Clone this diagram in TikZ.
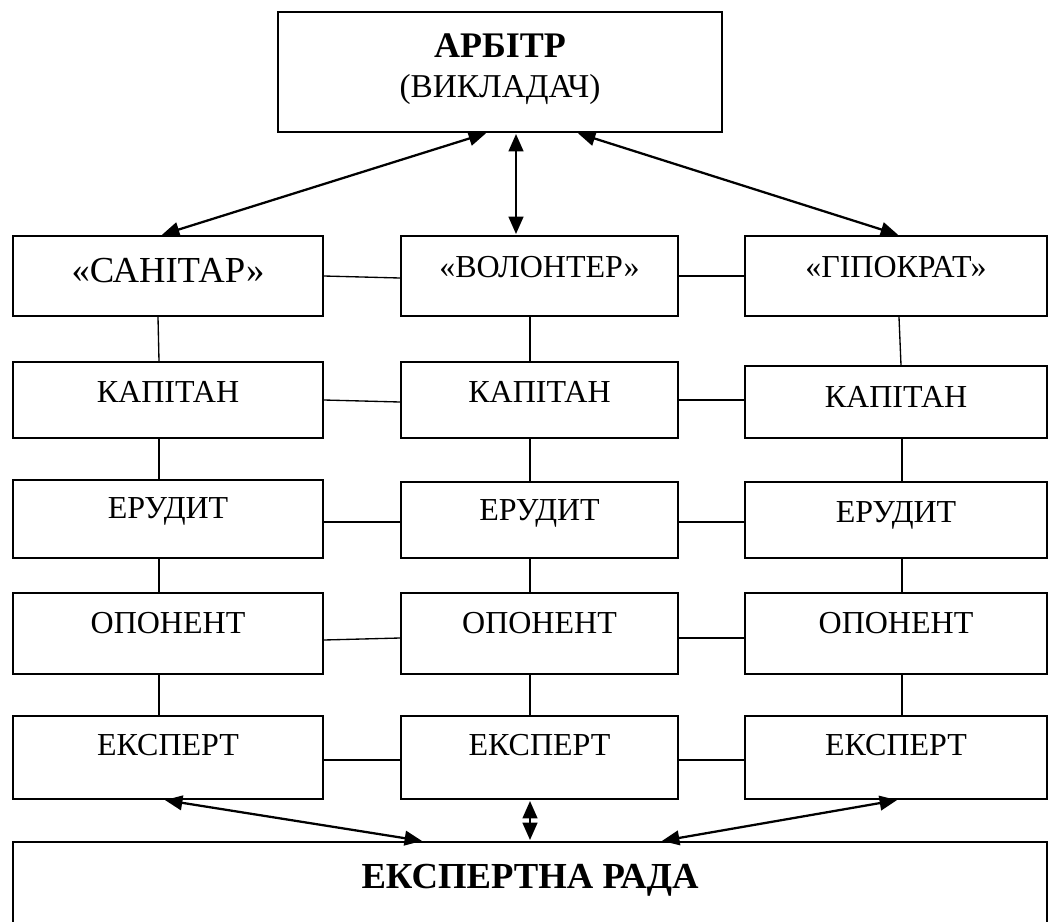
\documentclass[tikz,border=0pt]{standalone}
\usepackage{fontspec}
\setmainfont{Liberation Serif}
\usetikzlibrary{calc,arrows.meta}
\begin{document}
\begin{tikzpicture}[x=0.75pt,y=-0.75pt,
  bx/.style args={#1/#2/#3}{draw, line width=1.4pt, inner xsep=0pt, inner ysep=0pt,
    minimum width=#1, text height=#2, text depth=#3,
    font=\fontsize{24}{28}\selectfont},
  link/.style={line width=1pt},
  arr/.style={line width=1.7pt, {Triangle[length=13pt,width=11pt]}-{Triangle[length=13pt,width=11pt]}, shorten <=0.8pt, shorten >=0.8pt}
]
\useasboundingbox (0,0) rectangle (1051,922);
\clip (0,0) rectangle (1051,922);

% top box
\node[bx=333pt/33.75pt/56.25pt, font=\fontsize{27}{32}\selectfont\bfseries] (arb) at (500,72) {АРБІТР};
\node[anchor=base, inner sep=0pt, font=\fontsize{25}{28}\selectfont] (arbsub) at (500,97) {(ВИКЛАДАЧ)};

% row 1
\node[bx=232.5pt/34.5pt/25.5pt, font=\fontsize{27.5}{32}\selectfont] (s1) at (168,276) {«САНІТАР»};
\node[bx=207.75pt/30.75pt/29.25pt] (v1) at (539.5,276) {«ВОЛОНТЕР»};
\node[bx=226.5pt/30.75pt/29.25pt] (g1) at (896,276) {«ГІПОКРАТ»};

% row 2
\node[bx=232.5pt/30pt/27pt] (s2) at (168,400) {КАПІТАН};
\node[bx=207.75pt/30pt/27pt] (v2) at (539.5,400) {КАПІТАН};
\node[bx=226.5pt/30.75pt/23.25pt] (g2) at (896,402) {КАПІТАН};

% row 3
\node[bx=232.5pt/28.5pt/30pt] (s3) at (168,519) {ЕРУДИТ};
\node[bx=207.75pt/28.5pt/28.5pt] (v3) at (539.5,520) {ЕРУДИТ};
\node[bx=226.5pt/30pt/27pt] (g3) at (896,520) {ЕРУДИТ};

% row 4
\node[bx=232.5pt/30pt/30.75pt] (s4) at (168,633.5) {ОПОНЕНТ};
\node[bx=207.75pt/30pt/30.75pt] (v4) at (539.5,633.5) {ОПОНЕНТ};
\node[bx=226.5pt/30pt/30.75pt] (g4) at (896,633.5) {ОПОНЕНТ};

% row 5
\node[bx=232.5pt/29.25pt/33pt] (s5) at (168,757.5) {ЕКСПЕРТ};
\node[bx=207.75pt/29.25pt/33pt] (v5) at (539.5,757.5) {ЕКСПЕРТ};
\node[bx=226.5pt/29.25pt/33pt] (g5) at (896,757.5) {ЕКСПЕРТ};

% bottom box
\node[bx=775.5pt/34.5pt/55.5pt, font=\fontsize{27.5}{32}\selectfont\bfseries] (rada) at (530,902) {ЕКСПЕРТНА РАДА};

% arrows from arbiter
\draw[arr] ($(arb.south)+(-13,0)$) -- ($(s1.north)+(-7,0)$);
\draw[arr] ($(arb.south)+(16,0)$) -- ($(v1.north)+(-23.5,0)$);
\draw[arr] ($(arb.south)+(77,0)$) -- ($(g1.north)+(3,0)$);

% arrows to expert council
\draw[arr] ($(s5.south)+(-4,0)$) -- ($(rada.north)+(-107,0)$);
\draw[arr] ($(v5.south)+(-9.5,0)$) -- ($(rada.north)+(0,0)$);
\draw[arr] ($(g5.south)+(2,0)$) -- ($(rada.north)+(131,0)$);

% vertical links
\draw[link] ($(s1.south)+(-10,0)$) -- ($(s2.north)+(-9,0)$);
\draw[link] ($(s2.south)+(-9,0)$) -- ($(s3.north)+(-9,0)$);
\draw[link] ($(s3.south)+(-9,0)$) -- ($(s4.north)+(-9,0)$);
\draw[link] ($(s4.south)+(-9,0)$) -- ($(s5.north)+(-9,0)$);

\draw[link] ($(v1.south)+(-9.5,0)$) -- ($(v2.north)+(-9.5,0)$);
\draw[link] ($(v2.south)+(-9.5,0)$) -- ($(v3.north)+(-9.5,0)$);
\draw[link] ($(v3.south)+(-9.5,0)$) -- ($(v4.north)+(-9.5,0)$);
\draw[link] ($(v4.south)+(-9.5,0)$) -- ($(v5.north)+(-9.5,0)$);

\draw[link] ($(g1.south)+(3,0)$) -- ($(g2.north)+(5,0)$);
\draw[link] ($(g2.south)+(6,0)$) -- ($(g3.north)+(6,0)$);
\draw[link] ($(g3.south)+(6,0)$) -- ($(g4.north)+(6,0)$);
\draw[link] ($(g4.south)+(6,0)$) -- ($(g5.north)+(6,0)$);

% horizontal links
\draw[link] ($(s1.east)+(0,0)$) -- ($(v1.west)+(0,2)$);
\draw[link] (v1.east) -- (g1.west);
\draw[link] (s2.east) -- ($(v2.west)+(0,2)$);
\draw[link] (v2.east) -- ($(g2.west)+(0,-2)$);
\draw[link] ($(s3.east)+(0,3)$) -- ($(v3.west)+(0,2)$);
\draw[link] ($(v3.east)+(0,2)$) -- ($(g3.west)+(0,2)$);
\draw[link] ($(s4.east)+(0,6.5)$) -- ($(v4.west)+(0,4.5)$);
\draw[link] ($(v4.east)+(0,4.5)$) -- ($(g4.west)+(0,4.5)$);
\draw[link] ($(s5.east)+(0,2.5)$) -- ($(v5.west)+(0,2.5)$);
\draw[link] ($(v5.east)+(0,2.5)$) -- ($(g5.west)+(0,2.5)$);
\end{tikzpicture}
\end{document}
